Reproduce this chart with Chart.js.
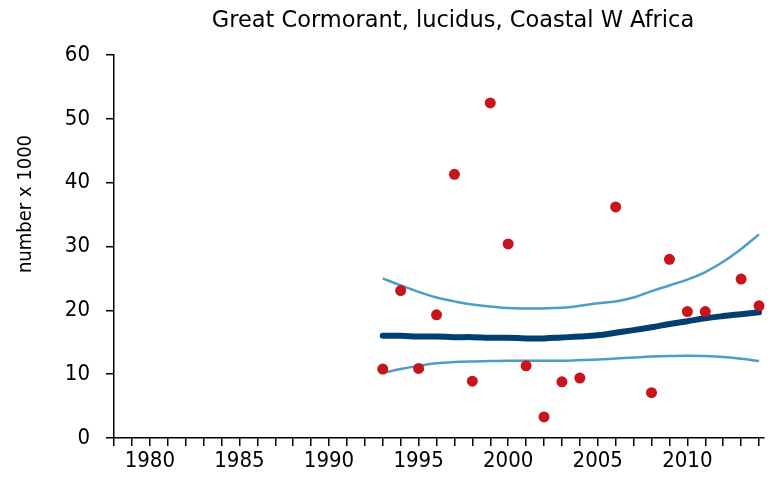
<!DOCTYPE html>
<html>
<head>
<meta charset="utf-8">
<script src="https://cdn.jsdelivr.net/npm/chart.js@4"></script>
<style>
  html, body { margin: 0; padding: 0; background: #fff; }
  #wrap { width: 769px; height: 486px; }
</style>
</head>
<body>
<div id="wrap"><canvas id="chart" width="769" height="486"></canvas></div>
<script>
// Counts (x 1000) per year
const years = [1993, 1994, 1995, 1996, 1997, 1998, 1999, 2000, 2001, 2002, 2003, 2004, 2006, 2008, 2009, 2010, 2011, 2013, 2014];
const counts = [10.8, 23.1, 10.9, 19.3, 41.3, 8.9, 52.5, 30.4, 11.3, 3.3, 8.8, 9.4, 36.2, 7.1, 28.0, 19.8, 19.8, 24.9, 20.7];

// Trend line and its confidence band
const trendYears = [1993, 1994, 1995, 1996, 1997, 1998, 1999, 2000, 2001, 2002, 2003, 2004, 2005, 2006, 2007, 2008, 2009, 2010, 2011, 2012, 2013, 2014];
const trend = [16.0, 16.0, 15.9, 15.9, 15.8, 15.8, 15.7, 15.7, 15.6, 15.6, 15.75, 15.9, 16.1, 16.5, 16.9, 17.35, 17.85, 18.3, 18.75, 19.1, 19.4, 19.7];
const upper = [25.0, 23.9, 22.9, 22.0, 21.4, 20.9, 20.6, 20.35, 20.3, 20.3, 20.4, 20.7, 21.1, 21.4, 22.0, 23.0, 23.9, 24.8, 26.0, 27.6, 29.6, 31.9];
const lower = [10.2, 10.8, 11.3, 11.7, 11.9, 12.0, 12.05, 12.1, 12.1, 12.1, 12.1, 12.2, 12.3, 12.45, 12.6, 12.75, 12.85, 12.9, 12.85, 12.7, 12.4, 12.05];

const yTicks = [0, 10, 20, 30, 40, 50, 60];
const chartTitle = 'Great Cormorant, lucidus, Coastal W Africa';
const yTitle = 'number x 1000';

const FONT = '"DejaVu Sans", Verdana, sans-serif';
const FONT_NARROW = '"DejaVu Sans Condensed", "DejaVu Sans", sans-serif';

function pairs(xs, ys) {
    return xs.map((x, i) => ({ x: x, y: ys[i] }));
}

// draws the title and the y axis title at fixed spots
const textPlugin = {
    id: 'texts',
    afterDraw(chart) {
        const c = chart.ctx;
        c.save();
        c.fillStyle = '#000';
        c.textAlign = 'center';
        c.textBaseline = 'middle';
        c.font = '22.5px ' + FONT;
        c.fillText(chartTitle, 453, 21);
        c.font = '20px ' + FONT_NARROW;
        c.translate(26, 204);
        c.rotate(-Math.PI / 2);
        c.fillText(yTitle, 0, 0);
        c.restore();
    }
};

const ctx = document.getElementById('chart').getContext('2d');
new Chart(ctx, {
    type: 'scatter',
    data: {
        datasets: [
            {
                label: 'count',
                data: pairs(years, counts),
                backgroundColor: '#c8141c',
                borderColor: '#c8141c',
                pointRadius: 5.5,
                pointBorderWidth: 0,
                clip: false
            },
            {
                label: 'trend',
                data: pairs(trendYears, trend),
                showLine: true,
                borderColor: '#003f72',
                borderWidth: 6,
                pointRadius: 0,
                tension: 0.4,
                borderCapStyle: 'round'
            },
            {
                label: 'upper',
                data: pairs(trendYears, upper),
                showLine: true,
                borderColor: '#4b9fc5',
                borderWidth: 2.5,
                pointRadius: 0,
                tension: 0.4
            },
            {
                label: 'lower',
                data: pairs(trendYears, lower),
                showLine: true,
                borderColor: '#4b9fc5',
                borderWidth: 2.5,
                pointRadius: 0,
                tension: 0.4
            }
        ]
    },
    options: {
        responsive: false,
        animation: false,
        layout: { padding: { top: 55, right: 4, left: 0, bottom: 0 } },
        plugins: {
            legend: { display: false },
            title: { display: false },
            tooltip: { enabled: false }
        },
        scales: {
            x: {
                type: 'linear',
                min: 1978,
                max: 2014.25,
                afterFit(scale) { scale.height = 48; },
                border: { color: '#000', width: 1.5 },
                grid: { drawOnChartArea: false, drawTicks: true, tickLength: 8, color: '#000', lineWidth: 1.5 },
                ticks: {
                    stepSize: 1,
                    includeBounds: false,
                    autoSkip: false,
                    maxRotation: 0,
                    padding: 2,
                    color: '#000',
                    font: { family: FONT_NARROW, size: 22 },
                    callback: (v) => (v % 5 === 0 ? String(v) : '')
                }
            },
            y: {
                min: 0,
                max: 60,
                afterFit(scale) { scale.width = 114; },
                afterBuildTicks(scale) { scale.ticks = yTicks.map(v => ({ value: v })); },
                border: { color: '#000', width: 1.5 },
                grid: { drawOnChartArea: false, drawTicks: true, tickLength: 8, color: '#000', lineWidth: 1.5 },
                ticks: {
                    padding: 16,
                    color: '#000',
                    font: { family: FONT_NARROW, size: 22 }
                }
            }
        }
    },
    plugins: [textPlugin]
});
</script>
</body>
</html>
